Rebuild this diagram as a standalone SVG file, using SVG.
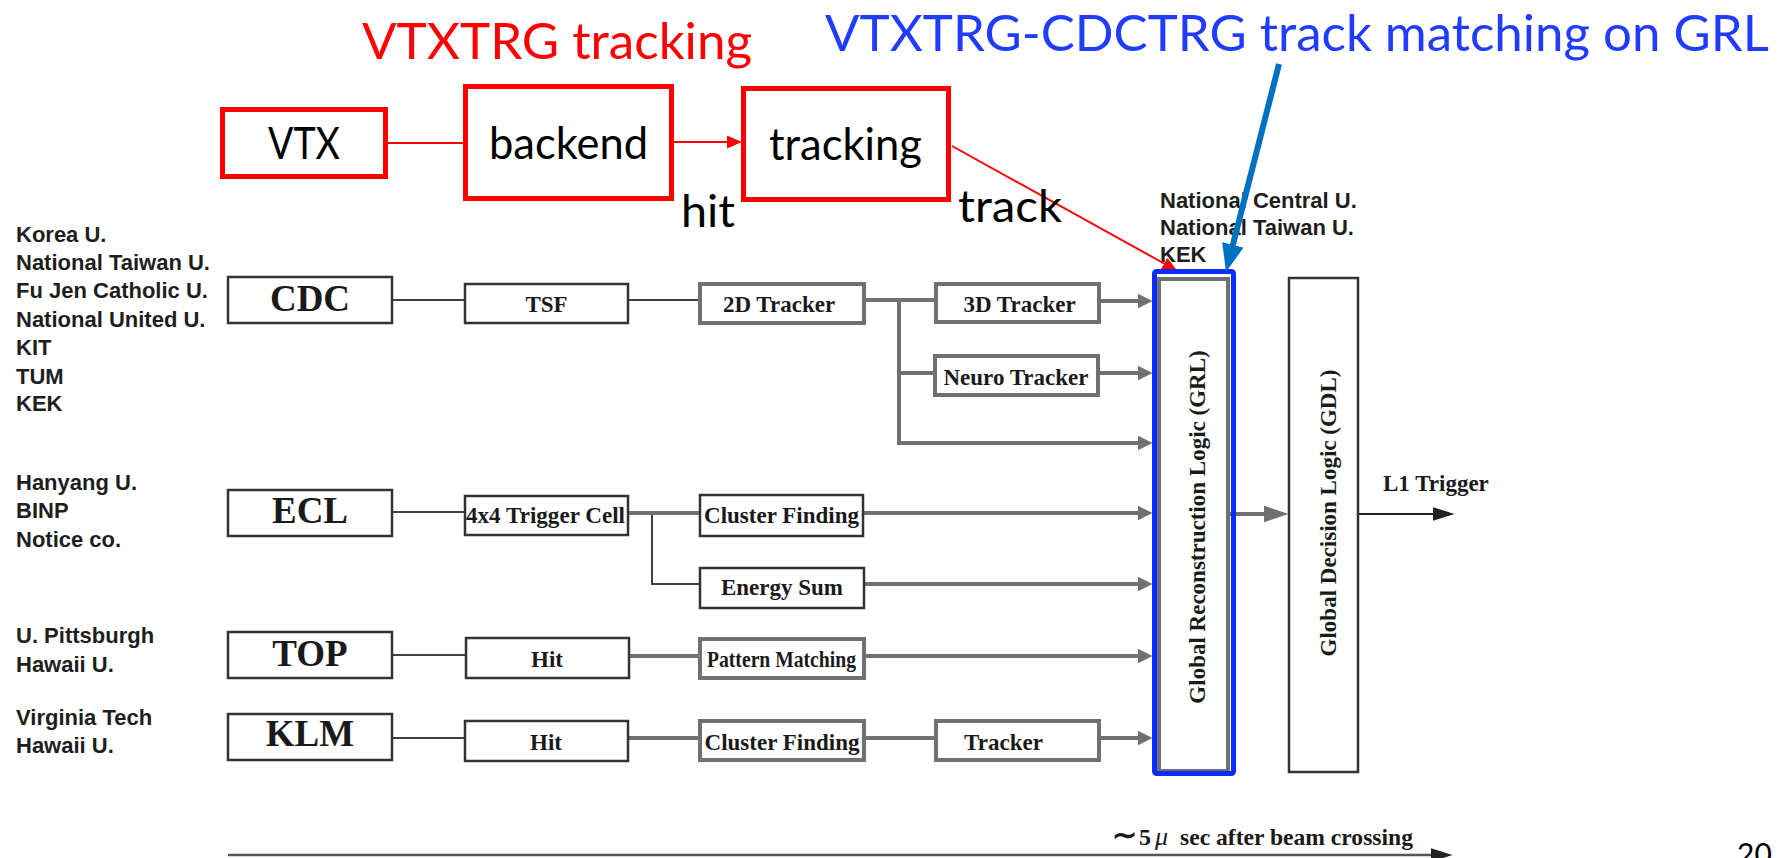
<svg xmlns="http://www.w3.org/2000/svg" width="1781" height="858" viewBox="0 0 1781 858">
<style>
.inst{font-family:"Liberation Sans",Arial,sans-serif;font-weight:bold;font-size:22px;fill:#1e1e1e}
.det{font-family:"Liberation Serif","Times New Roman",serif;font-weight:bold;font-size:37px;fill:#1a1a1a;text-anchor:middle}
.lab{font-family:"Liberation Serif","Times New Roman",serif;font-weight:bold;font-size:23px;fill:#1a1a1a;text-anchor:middle}
.labs{font-family:"Liberation Serif","Times New Roman",serif;font-weight:bold;font-size:23px;fill:#1a1a1a}
.cal{font-family:Lato,"Open Sans",sans-serif;font-size:44px;fill:#000}
.title{font-family:Lato,"Open Sans",sans-serif;font-size:51px}
.thin{fill:#fff;stroke:#333;stroke-width:2.5}
.thick{fill:#fff;stroke:#707070;stroke-width:4}
.red{fill:#fff;stroke:#f00;stroke-width:5}
.cthin{stroke:#404040;stroke-width:2;fill:none}
.cthick{stroke:#707070;stroke-width:4;fill:none}
</style>
<defs>
<marker id="ga" markerUnits="userSpaceOnUse" markerWidth="16" markerHeight="16" refX="0.5" refY="7.5" orient="auto"><path d="M0,0 L15,7.5 L0,15 z" fill="#707070"/></marker>
<marker id="gb" markerUnits="userSpaceOnUse" markerWidth="26" markerHeight="18" refX="0.5" refY="8.5" orient="auto"><path d="M0,0 L25,8.5 L0,17 z" fill="#707070"/></marker>
<marker id="ba" markerUnits="userSpaceOnUse" markerWidth="23" markerHeight="16" refX="0.5" refY="7" orient="auto"><path d="M0,0 L22,7 L0,14 z" fill="#222"/></marker>
<marker id="ra" markerUnits="userSpaceOnUse" markerWidth="16" markerHeight="14" refX="1" refY="6.5" orient="auto"><path d="M0,0 L15,6.5 L0,13 z" fill="#f00"/></marker>
<marker id="bl" markerUnits="userSpaceOnUse" markerWidth="30" markerHeight="24" refX="2" refY="11" orient="auto"><path d="M0,0 L28,11 L0,22 z" fill="#0070c0"/></marker>
</defs>

<g id="titles">
<text class="title" x="362" y="59" fill="#ff0000" textLength="390" lengthAdjust="spacingAndGlyphs">VTXTRG tracking</text>
<text class="title" x="825" y="51" fill="#1f3cff" textLength="944" lengthAdjust="spacingAndGlyphs">VTXTRG-CDCTRG track matching on GRL</text>
</g>

<g id="institutions">
<text class="inst" x="16" y="242">Korea U.</text>
<text class="inst" x="16" y="270">National Taiwan U.</text>
<text class="inst" x="16" y="298">Fu Jen Catholic U.</text>
<text class="inst" x="16" y="327">National United U.</text>
<text class="inst" x="16" y="355">KIT</text>
<text class="inst" x="16" y="384">TUM</text>
<text class="inst" x="16" y="411">KEK</text>
<text class="inst" x="16" y="490">Hanyang U.</text>
<text class="inst" x="16" y="518">BINP</text>
<text class="inst" x="16" y="547">Notice  co.</text>
<text class="inst" x="16" y="643">U. Pittsburgh</text>
<text class="inst" x="16" y="672">Hawaii U.</text>
<text class="inst" x="16" y="725">Virginia Tech</text>
<text class="inst" x="16" y="753">Hawaii U.</text>
<text class="inst" x="1160" y="208">National Central U.</text>
<text class="inst" x="1160" y="235">National Taiwan U.</text>
<text class="inst" x="1160" y="262">KEK</text>
</g>

<g id="connectors">
<path class="cthin" d="M393 300 H464"/>
<path class="cthin" d="M629 300 H698"/>
<path class="cthin" d="M393 512 H464"/>
<path class="cthin" d="M652 513 V584 H699"/>
<path class="cthin" d="M393 655 H465"/>
<path class="cthin" d="M393 738 H464"/>
<path class="cthick" d="M866 300 H934"/>
<path class="cthick" d="M899 300 V443 H1138" marker-end="url(#ga)"/>
<path class="cthick" d="M899 373 H933"/>
<path class="cthick" d="M1101 301 H1138" marker-end="url(#ga)"/>
<path class="cthick" d="M1100 373 H1138" marker-end="url(#ga)"/>
<path class="cthick" d="M629 513 H699"/>
<path class="cthick" d="M864 513 H1138" marker-end="url(#ga)"/>
<path class="cthick" d="M865 584 H1138" marker-end="url(#ga)"/>
<path class="cthick" d="M630 656 H698"/>
<path class="cthick" d="M866 656 H1138" marker-end="url(#ga)"/>
<path class="cthick" d="M629 738 H698"/>
<path class="cthick" d="M866 738 H934"/>
<path class="cthick" d="M1101 738 H1138" marker-end="url(#ga)"/>
<path class="cthick" d="M1229 514 H1264" marker-end="url(#gb)"/>
<path d="M1359 514 H1433" stroke="#222" stroke-width="2" fill="none" marker-end="url(#ba)"/>
<path d="M228 855 H1431" stroke="#555" stroke-width="2.5" fill="none" marker-end="url(#ba)"/>
<path d="M388 143 H463" stroke="#f00" stroke-width="2" fill="none"/>
<path d="M666 142 H728" stroke="#f00" stroke-width="2" fill="none" marker-end="url(#ra)"/>
<path d="M952 146 L1165 264" stroke="#f00" stroke-width="2" fill="none" marker-end="url(#ra)"/>
</g>

<g id="vtx"><rect class="red" x="222.5" y="109.5" width="163" height="67"/><text class="cal" x="268" y="159" textLength="72" lengthAdjust="spacingAndGlyphs">VTX</text></g>
<g id="backend"><rect class="red" x="465.5" y="86.5" width="206" height="112"/><text class="cal" x="489" y="159" textLength="159" lengthAdjust="spacingAndGlyphs">backend</text></g>
<g id="tracking"><rect class="red" x="743.5" y="88.5" width="205" height="111"/><text class="cal" x="769" y="160" textLength="153" lengthAdjust="spacingAndGlyphs">tracking</text></g>
<g id="labels-red"><text class="cal" x="681" y="227" textLength="54" lengthAdjust="spacingAndGlyphs">hit</text><text class="cal" x="958" y="222" textLength="104" lengthAdjust="spacingAndGlyphs">track</text></g>

<g id="cdc"><rect class="thin" x="228" y="277" width="164" height="46"/><text class="det" x="310" y="311">CDC</text></g>
<g id="ecl"><rect class="thin" x="228" y="490" width="164" height="46"/><text class="det" x="310" y="523">ECL</text></g>
<g id="top"><rect class="thin" x="228" y="632" width="164" height="46"/><text class="det" x="310" y="666">TOP</text></g>
<g id="klm"><rect class="thin" x="228" y="714" width="164" height="46"/><text class="det" x="310" y="746">KLM</text></g>

<g id="tsf"><rect class="thin" x="465" y="284" width="163" height="39"/><text class="lab" x="546.5" y="312">TSF</text></g>
<g id="cell"><rect class="thin" x="465" y="496" width="163" height="39"/><text class="labs" x="466" y="523" textLength="159" lengthAdjust="spacingAndGlyphs">4x4 Trigger Cell</text></g>
<g id="hit-top"><rect class="thin" x="466" y="638" width="163" height="40"/><text class="lab" x="547" y="667">Hit</text></g>
<g id="hit-klm"><rect class="thin" x="465" y="721" width="163" height="40"/><text class="lab" x="546" y="750">Hit</text></g>

<g id="tracker2d"><rect class="thick" x="700" y="284" width="164" height="39"/><text class="lab" x="779" y="312">2D Tracker</text></g>
<g id="tracker3d"><rect class="thick" x="936" y="284" width="163" height="38"/><text class="lab" x="1019.5" y="312">3D Tracker</text></g>
<g id="neuro"><rect class="thick" x="935" y="356" width="163" height="39"/><text class="lab" x="1016" y="385">Neuro Tracker</text></g>
<g id="cluster-ecl"><rect class="thin" x="700" y="495" width="163" height="41"/><text class="lab" x="781.5" y="523">Cluster Finding</text></g>
<g id="energy"><rect class="thin" x="700" y="568" width="164" height="40"/><text class="lab" x="782" y="595">Energy Sum</text></g>
<g id="pattern"><rect class="thick" x="700" y="639" width="164" height="39"/><text class="labs" x="707" y="667" font-size="20" textLength="149" lengthAdjust="spacingAndGlyphs">Pattern Matching</text></g>
<g id="cluster-klm"><rect class="thick" x="700" y="721" width="164" height="39"/><text class="lab" x="782" y="750">Cluster Finding</text></g>
<g id="tracker-klm"><rect class="thick" x="936" y="721" width="163" height="39"/><text class="lab" x="1003.5" y="750">Tracker</text></g>

<g id="grl">
<rect class="thick" x="1159" y="279" width="69" height="492"/>
<text class="lab" font-size="22.5" transform="translate(1205,527) rotate(-90)">Global Reconstruction Logic (GRL)</text>
<rect x="1154.5" y="271.5" width="79" height="502" rx="2" fill="none" stroke="#0b2dff" stroke-width="5"/>
</g>
<g id="gdl">
<rect class="thin" x="1289" y="278" width="69" height="494"/>
<text class="lab" font-size="22.5" transform="translate(1336,513) rotate(-90)">Global Decision Logic (GDL)</text>
</g>
<g id="l1"><text class="labs" x="1383" y="491" font-size="22.5">L1 Trigger</text></g>

<g id="timeline">
<text class="labs" y="845"><tspan x="1112" font-size="30">∼</tspan><tspan x="1139" font-size="24">5</tspan><tspan x="1155" font-size="26" font-style="italic" font-weight="normal">μ</tspan><tspan x="1180" font-size="23.5" textLength="233" lengthAdjust="spacingAndGlyphs">sec after beam crossing</tspan></text>
</g>

<g id="blue-arrow"><path d="M1279 64 L1232.4 246.8" stroke="#0070c0" stroke-width="6" fill="none" marker-end="url(#bl)"/></g>

<g id="page"><text x="1737" y="865" font-family="Lato,'Open Sans',sans-serif" font-size="30" fill="#000">20</text></g>
</svg>
